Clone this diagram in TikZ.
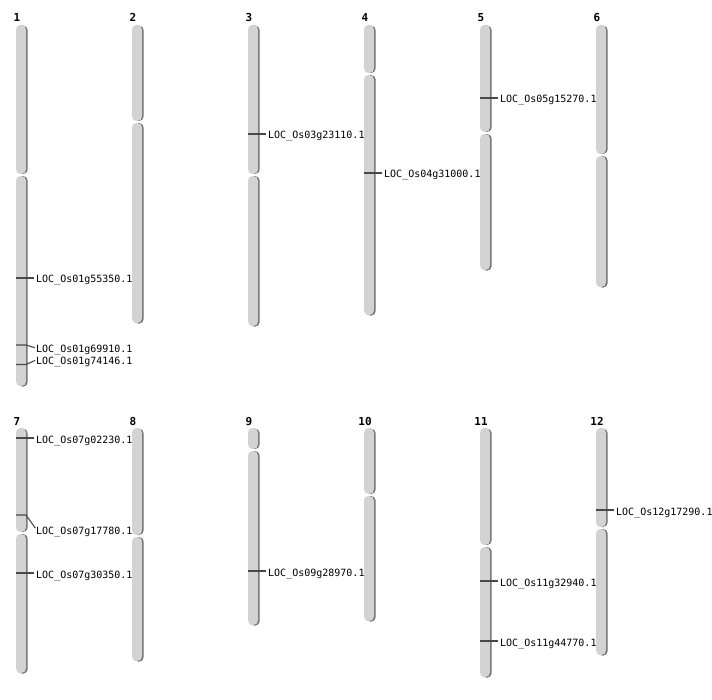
\documentclass[tikz,border=0pt]{standalone}
\usepackage{fontspec}
\setmonofont{DejaVu Sans Mono}
\usepackage{tikz}
\definecolor{armgray}{HTML}{D3D3D3}
\definecolor{armedge}{HTML}{707070}
\definecolor{tickgray}{HTML}{484848}
% #1 node name, #2 number, #3 left x, #4 top, #5 centromere, #6 bottom
\newcommand{\Chr}[6]{%
  \node[chrnum] (#1) at (#3+1,#4-3) {#2};
  \fill[armshadow] (#3+1.6,#4+0.6) rectangle (#3+11.6,#5-1);
  \fill[arm] (#3,#4) rectangle (#3+10,#5-1);
  \fill[armshadow] (#3+1.6,#5+1) rectangle (#3+11.6,#6+0.6);
  \fill[arm] (#3,#5+1) rectangle (#3+10,#6);}
\newcommand{\Loc}[1]{LOC\_Os#1}

\begin{document}
\begin{tikzpicture}[
      x=1pt,y=-1pt,
      chrnum/.style={anchor=base,inner sep=0pt,font=\ttfamily\fontsize{11}{13}\selectfont\bfseries},
      arm/.style={fill=armgray,rounded corners=4.5pt},
      armshadow/.style={fill=armedge,rounded corners=4.5pt},
      gene/.style={anchor=west,inner sep=0pt,text height=12pt,text depth=2pt,font=\ttfamily\fontsize{10}{12}\selectfont,text=black},
      tick/.style={draw=tickgray,line width=1.1pt,shorten >=2pt},
      bent/.style={draw=tickgray,line width=1.1pt,shorten >=1pt}
    ]
    \useasboundingbox (0,0) rectangle (712,700);
    % Draw the chromosomes, top row.
    \Chr{c1}{1}{16}{25}{175}{386}
    \Chr{c2}{2}{132}{25}{122}{323}
    \Chr{c3}{3}{248}{25}{175}{326}
    \Chr{c4}{4}{364}{25}{74}{315}
    \Chr{c5}{5}{480}{25}{133}{270}
    \Chr{c6}{6}{596}{25}{155}{287}
    % Draw the chromosomes, bottom row.
    \Chr{c7}{7}{16}{428}{533}{673}
    \Chr{c8}{8}{132}{428}{536}{661}
    \Chr{c9}{9}{248}{428}{450}{625}
    \Chr{c10}{10}{364}{428}{495}{621}
    \Chr{c11}{11}{480}{428}{546}{677}
    \Chr{c12}{12}{596}{428}{528}{655}
    % Mark the genes.
    \coordinate (m1a) at (16,278);
    \node[gene] (g1a) at (36,278) {\Loc{01g55350.1}};
    \draw[tick] (m1a) -- (g1a.west);
    \coordinate (m1b) at (16,345);
    \node[gene] (g1b) at (36,348) {\Loc{01g69910.1}};
    \draw[bent] (m1b) -- ++(10,0) -- (g1b.west);
    \coordinate (m1c) at (16,364.5);
    \node[gene] (g1c) at (36,360) {\Loc{01g74146.1}};
    \draw[bent] (m1c) -- ++(10,0) -- (g1c.west);
    \coordinate (m3a) at (248,134);
    \node[gene] (g3a) at (268,134) {\Loc{03g23110.1}};
    \draw[tick] (m3a) -- (g3a.west);
    \coordinate (m4a) at (364,173);
    \node[gene] (g4a) at (384,173) {\Loc{04g31000.1}};
    \draw[tick] (m4a) -- (g4a.west);
    \coordinate (m5a) at (480,98);
    \node[gene] (g5a) at (500,98) {\Loc{05g15270.1}};
    \draw[tick] (m5a) -- (g5a.west);
    \coordinate (m7a) at (16,438);
    \node[gene] (g7a) at (36,438) {\Loc{07g02230.1}};
    \draw[tick] (m7a) -- (g7a.west);
    \coordinate (m7b) at (16,515);
    \node[gene] (g7b) at (36,529) {\Loc{07g17780.1}};
    \draw[bent] (m7b) -- ++(10,0) -- (g7b.west);
    \coordinate (m7c) at (16,573);
    \node[gene] (g7c) at (36,573) {\Loc{07g30350.1}};
    \draw[tick] (m7c) -- (g7c.west);
    \coordinate (m9a) at (248,571);
    \node[gene] (g9a) at (268,571) {\Loc{09g28970.1}};
    \draw[tick] (m9a) -- (g9a.west);
    \coordinate (m11a) at (480,581);
    \node[gene] (g11a) at (500,581) {\Loc{11g32940.1}};
    \draw[tick] (m11a) -- (g11a.west);
    \coordinate (m11b) at (480,641);
    \node[gene] (g11b) at (500,641) {\Loc{11g44770.1}};
    \draw[tick] (m11b) -- (g11b.west);
    \coordinate (m12a) at (596,510);
    \node[gene] (g12a) at (616,510) {\Loc{12g17290.1}};
    \draw[tick] (m12a) -- (g12a.west);
\end{tikzpicture}
\end{document}
